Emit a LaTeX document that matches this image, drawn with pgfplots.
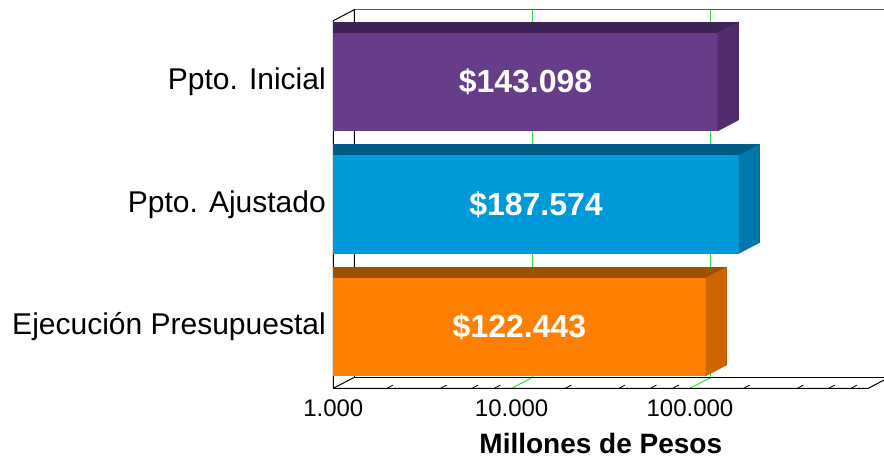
\documentclass[border=0pt]{standalone}
\usepackage{fontspec}
\setmainfont{Liberation Sans}
\usepackage{pgfplots}
\pgfplotsset{compat=1.18}
\usetikzlibrary{calc}

\definecolor{iniF}{HTML}{673D8A}
\definecolor{iniT}{HTML}{3E2454}
\definecolor{iniS}{HTML}{522D6E}
\definecolor{ajuF}{HTML}{009ADB}
\definecolor{ajuT}{HTML}{005C84}
\definecolor{ajuS}{HTML}{0078AB}
\definecolor{ejeF}{HTML}{FF8000}
\definecolor{ejeT}{HTML}{9E4F00}
\definecolor{ejeS}{HTML}{CC6600}
\definecolor{gridgreen}{HTML}{3CDC3C}

% right side face of a 3D bar, drawn at the end of the bar
\pgfdeclareplotmark{sideface}{%
  \pgfpathmoveto{\pgfqpoint{0pt}{-49.25pt}}%
  \pgfpathlineto{\pgfqpoint{0pt}{49.25pt}}%
  \pgfpathlineto{\pgfqpoint{21pt}{60.25pt}}%
  \pgfpathlineto{\pgfqpoint{21pt}{-38.25pt}}%
  \pgfpathclose
  \pgfusepathqfill}

\pgfplotsset{
  bar3d/.style={xbar, bar width=98.5pt, bar shift=0pt, draw=none},
}

\begin{document}
\begin{tikzpicture}
\begin{axis}[
    name=ax,
    scale only axis, width=535pt, height=367.6pt,
    xmode=log, log basis x=10, log origin x=infty,
    xmin=1000, xmax=1000000, ymin=-0.5, ymax=2.5,
    clip=false,
    axis line style={draw=none},
    tick style={draw=none},
    major tick length=0pt, minor tick length=0pt,
    xtick={1000,10000,100000}, xticklabels={1.000,10.000,100.000},
    minor xtick={},
    ytick={0,1,2},
    yticklabels={Ejecución Presupuestal, Ppto. Ajustado, Ppto. Inicial},
    xticklabel style={font=\fontsize{24}{24}\selectfont, yshift=-8pt},
    yticklabel style={font=\fontsize{30}{30}\selectfont, xshift=-4pt},
    xlabel={Millones de Pesos},
    xlabel style={font=\bfseries\fontsize{28}{28}\selectfont, inner sep=0pt, yshift=-13pt},
]
% back wall and floor
\draw[gridgreen, line width=1pt] ([shift={(21pt,11pt)}]axis cs:10000,-0.5) -- ([shift={(21pt,11pt)}]axis cs:10000,2.5);
\draw[gridgreen, line width=1pt] ([shift={(21pt,11pt)}]axis cs:100000,-0.5) -- ([shift={(21pt,11pt)}]axis cs:100000,2.5);
\draw[gridgreen, line width=1pt] (axis cs:10000,-0.5) -- ++(21pt,11pt);
\draw[gridgreen, line width=1pt] (axis cs:100000,-0.5) -- ++(21pt,11pt);
\draw[black!65, line width=1.6pt] ([shift={(21pt,11pt)}]axis cs:1000,2.5) -- ++(600pt,0pt);
\draw[black, line width=1pt] ([shift={(21pt,11pt)}]axis cs:1000,-0.5) -- ++(600pt,0pt);
\draw[black, line width=1pt] (axis cs:1000,-0.5) -- (axis cs:1000000,-0.5) -- ++(21pt,11pt);
\draw[black, line width=1pt] (axis cs:1000,-0.5) -- ++(21pt,11pt) -- ([shift={(21pt,11pt)}]axis cs:1000,2.5) -- (axis cs:1000,2.5) -- cycle;
\pgfplotsinvokeforeach{2000,4000,6000,8000,20000,40000,60000,80000,200000,400000,600000,800000}{
  \draw[black, line width=0.8pt] (axis cs:#1,-0.5) -- ++(6pt,3.2pt);
}

% Ejecucion Presupuestal
\addplot[bar3d, fill=ejeT, yshift=11pt] coordinates {(122443,0)};
\addplot[bar3d, fill=ejeT, xshift=21pt, yshift=11pt] coordinates {(122443,0)};
\addplot[only marks, mark=sideface, mark options={fill=ejeS, draw=none}] coordinates {(122443,0)};
\addplot[bar3d, fill=ejeF] coordinates {(122443,0)};

% Ppto. Ajustado
\addplot[bar3d, fill=ajuT, yshift=11pt] coordinates {(187574,1)};
\addplot[bar3d, fill=ajuT, xshift=21pt, yshift=11pt] coordinates {(187574,1)};
\addplot[only marks, mark=sideface, mark options={fill=ajuS, draw=none}] coordinates {(187574,1)};
\addplot[bar3d, fill=ajuF] coordinates {(187574,1)};

% Ppto. Inicial
\addplot[bar3d, fill=iniT, yshift=11pt] coordinates {(143098,2)};
\addplot[bar3d, fill=iniT, xshift=21pt, yshift=11pt] coordinates {(143098,2)};
\addplot[only marks, mark=sideface, mark options={fill=iniS, draw=none}] coordinates {(143098,2)};
\addplot[bar3d, fill=iniF] coordinates {(143098,2)};

\tikzset{barlabel/.style={text=white, font=\bfseries\fontsize{32}{32}\selectfont}}
\node[barlabel] at ($(axis cs:1000,0)!0.5!(axis cs:122443,0)$) {\$122.443};
\node[barlabel] at ($(axis cs:1000,1)!0.5!(axis cs:187574,1)$) {\$187.574};
\node[barlabel] at ($(axis cs:1000,2)!0.5!(axis cs:143098,2)$) {\$143.098};
\end{axis}
\pgfresetboundingbox
\path[use as bounding box] ($(ax.south west)+(-333.3pt,-72.7pt)$) rectangle ($(ax.south west)+(550.7pt,388.3pt)$);
\end{tikzpicture}
\end{document}
